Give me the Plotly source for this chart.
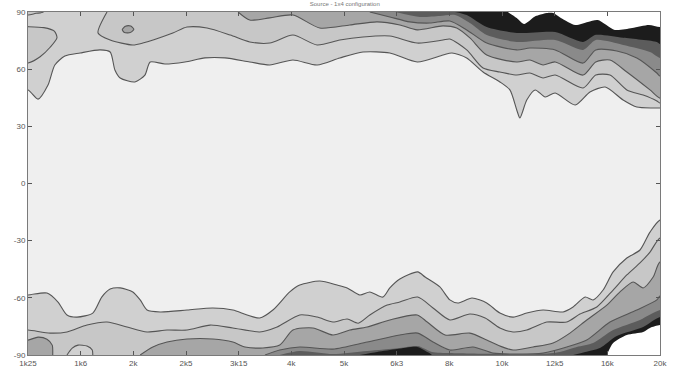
import plotly.graph_objects as go

# ---------------- data ----------------
freq_labels = ["1k25", "1k6", "2k", "2k5", "3k15", "4k", "5k", "6k3", "8k", "10k", "12k5", "16k", "20k"]
angle_ticks = [-90, -60, -30, 0, 30, 60, 90]
title_text = "Source - 1x4 configuration"

# level fill colours (inner -> outer)
level_colors = ["#efefef", "#d0d0d0", "#c7c7c7", "#a6a6a6", "#8a8a8a", "#5c5c5c", "#1c1c1c", "#ffffff"]

# upper contour boundaries (frequency index, angle in degrees)
t1_x = [0, 0.19, 0.38, 0.51, 0.70, 0.99, 1.37, 1.56, 1.65, 1.75, 2.03, 2.22, 2.32, 2.60, 2.98, 3.36, 3.74, 4.21, 4.59, 5.03, 5.49, 5.92, 6.36, 6.87, 7.39, 7.88, 8.05, 8.33, 8.64, 8.96, 9.15, 9.28, 9.34, 9.47, 9.63, 9.82, 10.01, 10.39, 10.67, 10.96, 11.30, 11.56, 11.87, 12]
t1_y = [49.1, 44.3, 51.7, 62.2, 66.9, 68.5, 70.1, 69.0, 59.6, 55.4, 53.3, 56.9, 63.8, 62.7, 63.8, 65.9, 65.9, 63.8, 62.2, 64.8, 62.2, 65.9, 69.0, 68.5, 63.8, 67.4, 68.5, 65.9, 58.5, 53.3, 49.1, 38.6, 34.4, 43.8, 49.1, 45.4, 47.5, 41.2, 48.0, 50.6, 43.8, 40.1, 39.6, 39.6]

t2_x = [1.50, 1.33, 1.56, 1.99, 2.18, 2.75, 3.02, 3.40, 3.84, 4.21, 4.59, 5.03, 5.49, 5.92, 6.36, 6.87, 7.39, 7.88, 8.01, 8.33, 8.64, 8.96, 9.28, 9.53, 9.78, 10.01, 10.54, 10.78, 11.05, 11.37, 11.68, 11.94, 12]
t2_y = [90, 79.0, 75.3, 72.7, 73.7, 79.0, 82.1, 81.6, 77.9, 74.3, 73.7, 77.9, 72.7, 75.3, 76.9, 77.4, 73.7, 75.3, 75.8, 70.1, 60.6, 58.5, 56.9, 58.0, 55.4, 56.9, 50.1, 56.9, 56.9, 49.1, 46.4, 43.3, 42.2]

t3_x = [3.99, 4.21, 4.59, 5.03, 5.54, 6.11, 6.63, 7.06, 7.39, 7.88, 8.14, 8.39, 8.71, 9.28, 9.53, 9.78, 10.01, 10.54, 10.78, 11.05, 11.37, 11.81, 12]
t3_y = [90, 85.8, 86.9, 88.4, 81.6, 83.2, 84.8, 83.2, 80.6, 82.7, 81.6, 76.4, 67.4, 63.8, 64.8, 62.2, 63.8, 56.9, 63.8, 64.8, 58.5, 49.1, 44.8]

t4_x = [6.49, 6.87, 7.25, 7.63, 8.01, 8.33, 8.71, 9.28, 9.53, 10.01, 10.54, 10.78, 11.18, 11.56, 11.94, 12]
t4_y = [90, 87.4, 84.8, 84.2, 85.3, 80.6, 73.7, 70.1, 71.1, 70.1, 63.2, 70.1, 69.5, 65.9, 58.0, 56.4]

t5_x = [6.97, 7.44, 7.82, 8.11, 8.39, 8.71, 9.28, 10.01, 10.54, 10.78, 11.30, 11.81, 12]
t5_y = [90, 87.4, 87.9, 88.4, 84.2, 77.9, 74.3, 75.3, 70.1, 75.3, 72.7, 69.0, 65.9]

t6_x = [8.11, 8.33, 8.71, 9.28, 10.01, 10.54, 10.78, 11.30, 11.94, 12]
t6_y = [90, 88.4, 82.1, 79.0, 79.5, 74.3, 78.0, 76.5, 74.3, 73.2]

t7_x = [9.11, 9.28, 9.42, 9.61, 9.70, 9.85, 9.97, 10.12, 10.39, 10.63, 10.82, 11.14, 11.47, 11.79, 12]
t7_y = [90, 86.9, 83.7, 87.4, 88.4, 89.5, 89.5, 86.9, 83.2, 84.8, 85.8, 80.6, 81.6, 83.2, 82.1]

# upper islands
bulge_x = [0, 0.23, 0.42, 0.55, 0.50, 0.30, 0]
bulge_y = [63.2, 66.5, 71.5, 76.5, 80.0, 81.8, 82.3]
corner_x = [0, 0.15, 0.29]
corner_y = [88.4, 89.3, 90]
blob_x = [1.79, 1.85, 1.95, 2.01, 1.94, 1.83, 1.79]
blob_y = [80.8, 82.5, 82.6, 80.9, 79.2, 79.3, 80.8]

# lower contour boundaries
b1_x = [0, 0.36, 0.57, 0.74, 0.93, 1.23, 1.40, 1.56, 1.75, 1.99, 2.13, 2.26, 2.51, 3.02, 3.51, 3.89, 4.16, 4.40, 4.65, 4.97, 5.16, 5.54, 5.87, 6.06, 6.30, 6.49, 6.74, 6.87, 7.06, 7.40, 7.54, 7.82, 8.01, 8.16, 8.43, 8.71, 8.96, 9.21, 9.47, 9.78, 10.16, 10.35, 10.58, 10.73, 10.92, 11.11, 11.37, 11.62, 11.81, 12]
b1_y = [-58.5, -57.5, -62.2, -69.0, -70.1, -68.0, -59.6, -55.4, -54.8, -56.9, -61.1, -66.4, -67.4, -66.4, -65.3, -66.4, -69.0, -70.6, -66.4, -56.9, -53.3, -51.2, -53.3, -54.8, -58.5, -56.9, -59.6, -54.8, -50.1, -46.4, -49.1, -54.3, -61.1, -62.7, -60.1, -62.7, -68.0, -70.1, -68.0, -66.4, -67.4, -64.8, -59.6, -61.1, -55.9, -46.4, -39.1, -34.9, -25.5, -19.2]

b2_x = [0, 0.42, 0.74, 1.12, 1.50, 1.88, 2.26, 2.64, 3.02, 3.46, 3.89, 4.40, 4.73, 5.16, 5.49, 5.79, 6.06, 6.27, 6.49, 6.82, 7.06, 7.40, 7.69, 8.01, 8.39, 8.68, 8.96, 9.21, 9.47, 9.85, 10.23, 10.48, 10.80, 11.11, 11.37, 11.62, 11.81, 12]
b2_y = [-76.9, -78.5, -77.9, -74.3, -72.7, -75.3, -77.9, -76.9, -76.9, -74.3, -75.8, -77.9, -75.3, -69.0, -70.1, -72.7, -71.1, -73.3, -69.0, -63.8, -62.2, -59.6, -65.3, -71.6, -68.5, -70.6, -75.8, -77.9, -76.9, -72.7, -72.7, -68.5, -64.8, -55.9, -48.0, -41.7, -36.0, -28.6]

b3_x = [2.13, 2.37, 2.64, 3.02, 3.51, 3.89, 4.12, 4.46, 4.78, 5.03, 5.41, 5.79, 6.11, 6.44, 6.87, 7.39, 7.58, 7.92, 8.39, 8.71, 8.96, 9.21, 9.59, 9.97, 10.29, 10.61, 10.99, 11.24, 11.49, 11.68, 11.87, 12]
b3_y = [-90, -85.8, -83.2, -81.6, -81.6, -83.2, -85.8, -86.3, -84.8, -76.9, -75.8, -79.5, -76.9, -75.3, -71.6, -69.0, -72.7, -79.5, -78.5, -82.1, -85.3, -87.4, -85.8, -83.7, -78.5, -71.6, -63.8, -56.9, -51.7, -54.8, -49.1, -41.2]

b4_x = [4.50, 4.78, 5.16, 5.79, 6.44, 7.06, 7.40, 7.69, 8.01, 8.45, 8.83, 9.21, 9.78, 10.23, 10.61, 11.05, 11.56, 11.94, 12]
b4_y = [-90, -87.4, -85.8, -86.9, -83.2, -79.5, -78.5, -83.2, -87.4, -85.8, -89.0, -89.5, -89.0, -85.8, -82.1, -72.7, -66.4, -61.1, -59.0]

b5_x = [4.78, 5.16, 5.79, 6.44, 7.06, 7.40, 7.67, 8.01, 8.96, 9.72, 10.10, 10.42, 10.73, 11.11, 11.62, 12]
b5_y = [-90, -87.9, -89.5, -87.9, -86.3, -85.3, -88.4, -89.0, -89.5, -89.5, -88.4, -85.8, -83.7, -76.9, -71.6, -66.4]

b6a_x = [6.30, 6.63, 7.01, 7.39, 7.58, 7.67]
b6a_y = [-90, -88.4, -86.9, -85.8, -88.4, -90]
b6b_x = [10.35, 10.58, 10.86, 11.18, 11.68, 12]
b6b_y = [-90, -88.4, -86.3, -80.0, -75.3, -70.1]

b7_x = [10.99, 11.11, 11.37, 11.68, 11.81, 12]
b7_y = [-90, -83.7, -79.5, -77.9, -75.8, -74.3]

# lower islands
lblob_x = [0, 0.19, 0.36, 0.46, 0.47]
lblob_y = [-82.2, -80.6, -81.7, -84.8, -90]
isl_x = [0.74, 0.84, 0.95, 1.12, 1.22, 1.23]
isl_y = [-90, -86.4, -84.8, -85.3, -87.4, -90]

# ---------------- drawing ----------------
X_MAX = len(freq_labels) - 1
PAD = 0.3
LINE_COL = "#555555"

fig = go.Figure()


def edge_poly(xs, ys, out):
    px, py = list(xs), list(ys)
    if px[0] <= 0:
        px = [-PAD] + px
        py = [py[0]] + py
    if px[-1] >= X_MAX:
        px = px + [X_MAX + PAD]
        py = py + [py[-1]]
    px += [px[-1], px[0]]
    py += [out, out]
    return px, py


def add_region(px, py, level, outline=True):
    fig.add_trace(go.Scatter(
        x=px, y=py, mode="lines", fill="toself",
        fillcolor=level_colors[level],
        line=dict(color=LINE_COL if outline else level_colors[level],
                  width=1.1 if outline else 0, shape="spline", smoothing=0.7),
        hoverinfo="skip", showlegend=False))


def add_top(xs, ys, level, outline=True):
    px, py = edge_poly(xs, ys, 100)
    add_region(px, py, level, outline)


def add_bottom(xs, ys, level, outline=True):
    px, py = edge_poly(xs, ys, -100)
    add_region(px, py, level, outline)


def add_left_island(xs, ys, level):
    px = [-PAD] + list(xs) + [-PAD]
    py = [ys[0]] + list(ys) + [ys[-1]]
    add_region(px, py, level, True)


# upper side
add_top(t1_x, t1_y, 1)
add_left_island(bulge_x, bulge_y, 2)
add_top(corner_x, corner_y, 2)
add_top(t2_x, t2_y, 2)
add_region(blob_x, blob_y, 3)
add_top(t3_x, t3_y, 3)
add_top(t4_x, t4_y, 4)
add_top(t5_x, t5_y, 5, outline=False)
add_top(t6_x, t6_y, 6, outline=False)
add_top(t7_x, t7_y, 7, outline=False)

# lower side
add_bottom(b1_x, b1_y, 1)
add_bottom(b2_x, b2_y, 2)
add_bottom(lblob_x, lblob_y, 3)
add_bottom(isl_x, isl_y, 1)
add_bottom(b3_x, b3_y, 3)
add_bottom(b4_x, b4_y, 4)
add_bottom(b5_x, b5_y, 5, outline=False)
add_bottom(b6a_x, b6a_y, 6, outline=False)
add_bottom(b6b_x, b6b_y, 6, outline=False)
add_bottom(b7_x, b7_y, 7, outline=False)

axis_common = dict(showgrid=False, zeroline=False, showline=True, linecolor="#7a7a7a",
                   linewidth=1, ticks="inside", ticklen=4, tickcolor="#555555",
                   mirror="allticks", automargin=False,
                   tickfont=dict(family="Liberation Sans", size=8, color="#555555"))

fig.update_layout(
    width=676, height=369,
    margin=dict(l=28, r=16, t=12, b=14, autoexpand=False),
    paper_bgcolor="white",
    plot_bgcolor=level_colors[0],
    title=dict(text=title_text, x=0.51, xanchor="center", y=0.995, yanchor="top",
               font=dict(family="Liberation Sans", size=6, color="#777777")),
    xaxis=dict(range=[0, X_MAX], tickmode="array", tickvals=list(range(len(freq_labels))),
               ticktext=freq_labels, **axis_common),
    yaxis=dict(range=[-90, 90], tickmode="array", tickvals=angle_ticks,
               ticktext=[str(v) for v in angle_ticks], **axis_common),
)

fig.write_html("out.html", config={"displayModeBar": False, "staticPlot": True},
               post_script="document.body.style.margin='0px';")
